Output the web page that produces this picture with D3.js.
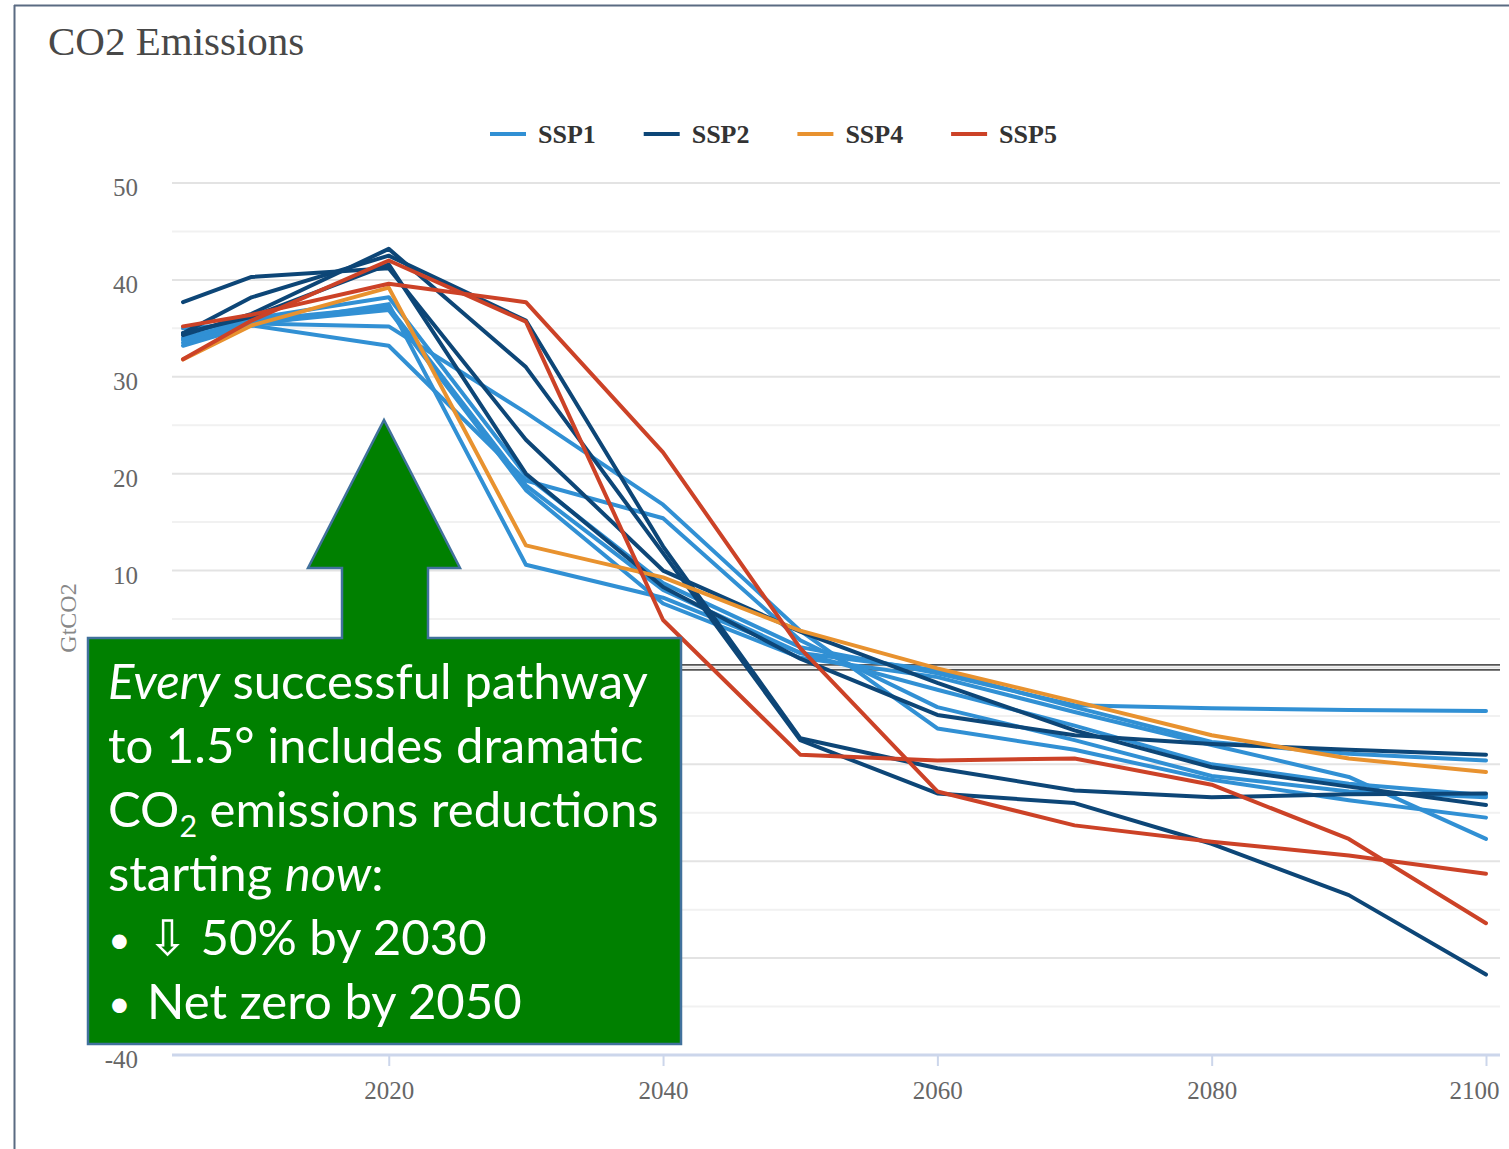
<!DOCTYPE html>
<html>
<head>
<meta charset="utf-8">
<script src="https://cdn.jsdelivr.net/npm/d3@7"></script>
<style>
  body { margin: 0; background: #fff; }
  svg { display: block; }
</style>
</head>
<body>
<div id="chart"></div>
<script>
// CO2 emissions pathways (GtCO2), one array per model run
var years = [2005, 2010, 2020, 2030, 2040, 2050, 2060, 2070, 2080, 2090, 2100];

var ssp1Runs = [
  [35.0, 35.5, 35.2, 26.3, 16.8, 3.8, -6.3, -8.5, -11.6, -13.7, -15.5],
  [33.2, 35.3, 33.2, 19.3, 15.4, 2.8, -4.1, -7.5, -11.2, -12.8, -13.4],
  [34.5, 36.0, 38.2, 19.8, 8.7, 2.1, -0.6, -3.9, -4.2, -4.4, -4.5],
  [34.0, 35.8, 37.2, 18.8, 8.0, 1.5, -0.3, -4.1, -7.7, -8.9, -9.6],
  [33.8, 35.5, 36.9, 18.3, 6.6, 1.0, -1.0, -4.6, -8.0, -11.3, -17.7],
  [33.5, 35.3, 37.5, 10.6, 7.2, 1.5, -2.3, -6.0, -10.0, -12.0, -13.2]
];
var ssp2Runs = [
  [34.5, 38.2, 42.5, 35.8, 12.5, -7.3, -10.4, -12.7, -13.4, -13.1, -13.0],
  [34.3, 36.5, 43.2, 31.0, 11.8, -7.5, -13.0, -14.0, -18.2, -23.5, -31.7],
  [37.7, 40.3, 41.2, 23.5, 10.0, 3.7, -1.6, -6.5, -10.3, -12.3, -14.2],
  [34.5, 36.2, 41.6, 20.0, 8.3, 0.9, -4.9, -7.0, -7.9, -8.5, -9.0]
];
var ssp4Runs = [
  [31.8, 35.3, 39.2, 12.6, 9.3, 3.8, -0.1, -3.5, -7.0, -9.4, -10.8]
];
var ssp5Runs = [
  [35.2, 36.4, 39.6, 37.7, 22.2, 2.0, -12.8, -16.3, -18.0, -19.4, -21.3],
  [31.8, 35.8, 42.0, 35.7, 4.9, -9.0, -9.6, -9.4, -12.1, -17.7, -26.4]
];

var seriesNames = ['SSP1', 'SSP2', 'SSP4', 'SSP5'];
var seriesColors = ['#3190d4', '#0d4677', '#e8922f', '#cc4227'];
// tick labels that show (the ones at 0, -10, -20, -30 sit behind the callout)
var yTicks = [50, 40, 30, 20, 10, -40];
var yGrid = d3.range(-40, 51, 5);
var xTicks = [2020, 2040, 2060, 2080, 2100];

var width = 1509, height = 1149;
var plotLeft = 172, plotRight = 1500;

var svg = d3.select('#chart').append('svg')
  .attr('width', width)
  .attr('height', height);

// picture frame
svg.append('line').attr('x1', 14.5).attr('x2', 14.5).attr('y1', 5).attr('y2', height)
  .attr('stroke', '#5a6b82').attr('stroke-width', 2);
svg.append('line').attr('x1', 14).attr('x2', width).attr('y1', 5.5).attr('y2', 5.5)
  .attr('stroke', '#5a6b82').attr('stroke-width', 2);

// title
svg.append('text')
  .attr('x', 48).attr('y', 55)
  .attr('font-family', 'Liberation Serif, serif')
  .attr('font-size', '41px')
  .attr('fill', '#484848')
  .text('CO2 Emissions');

// scales
var xScale = d3.scaleLinear().domain([2005, 2100]).range([183, 1486]);
var yScale = d3.scaleLinear().domain([-40, 50]).range([1055, 183]);

// gridlines
svg.append('g').selectAll('line')
  .data(yGrid)
  .enter().append('line')
  .attr('x1', plotLeft).attr('x2', plotRight)
  .attr('y1', function(d){ return yScale(d); })
  .attr('y2', function(d){ return yScale(d); })
  .attr('stroke', function(d){ return d % 10 === 0 ? '#e3e3e3' : '#f1f1f1'; })
  .attr('stroke-width', 2);

// y tick labels
svg.append('g').selectAll('text')
  .data(yTicks)
  .enter().append('text')
  .attr('x', 138)
  .attr('y', function(d){ return yScale(d) + 13; })
  .attr('text-anchor', 'end')
  .attr('font-family', 'Liberation Serif, serif')
  .attr('font-size', '25px')
  .attr('fill', '#666')
  .text(function(d){ return d; });

// y title
svg.append('text')
  .attr('transform', 'translate(76,618) rotate(-90)')
  .attr('text-anchor', 'middle')
  .attr('font-family', 'Liberation Serif, serif')
  .attr('font-size', '24px')
  .attr('fill', '#888')
  .text('GtCO2');

// x axis
var xAxis = d3.axisBottom(xScale)
  .tickValues(xTicks)
  .tickFormat(d3.format('d'))
  .tickSize(11)
  .tickPadding(15);
var xAxisG = svg.append('g')
  .attr('transform', 'translate(0,' + yScale(-40) + ')')
  .call(xAxis);
xAxisG.select('.domain').remove();
xAxisG.selectAll('.tick line').attr('stroke', '#ccd6eb').attr('stroke-width', 2);
xAxisG.selectAll('.tick text')
  .attr('font-family', 'Liberation Serif, serif')
  .attr('font-size', '25px')
  .attr('fill', '#666');
// keep the last label inside the plot's right edge
xAxisG.selectAll('.tick text').each(function(d){
  var w = this.getComputedTextLength();
  var over = xScale(d) + w / 2 - (plotRight - 1);
  if (over > 0) d3.select(this).attr('x', -over);
});
svg.append('line')
  .attr('x1', plotLeft).attr('x2', plotRight)
  .attr('y1', yScale(-40)).attr('y2', yScale(-40))
  .attr('stroke', '#ccd6eb').attr('stroke-width', 3);

// zero line (double rule)
[-2.5, 2.5].forEach(function(off){
  svg.append('line')
    .attr('x1', plotLeft).attr('x2', plotRight)
    .attr('y1', yScale(0) + off).attr('y2', yScale(0) + off)
    .attr('stroke', '#555').attr('stroke-width', 1.8);
});

// series lines
var line = d3.line()
  .x(function(d, i){ return xScale(years[i]); })
  .y(function(d){ return yScale(d); });

var allRuns = [ssp1Runs, ssp2Runs, ssp4Runs, ssp5Runs];
var linesG = svg.append('g');
allRuns.forEach(function(runs, s){
  runs.forEach(function(run){
    linesG.append('path')
      .attr('d', line(run))
      .attr('fill', 'none')
      .attr('stroke', seriesColors[s])
      .attr('stroke-width', 4)
      .attr('stroke-linejoin', 'round')
      .attr('stroke-linecap', 'round');
  });
});

// legend
var legendG = svg.append('g').attr('transform', 'translate(490,134)');
seriesNames.forEach(function(name, i){
  var row = legendG.append('g').attr('transform', 'translate(' + (i * 153.7) + ',0)');
  row.append('line')
    .attr('x1', 0).attr('x2', 36).attr('y1', 0).attr('y2', 0)
    .attr('stroke', seriesColors[i]).attr('stroke-width', 4);
  row.append('text')
    .attr('x', 48).attr('y', 9)
    .attr('font-family', 'Liberation Serif, serif')
    .attr('font-size', '26px')
    .attr('font-weight', 'bold')
    .attr('fill', '#333')
    .text(name);
});

// callout: green box with up arrow
var callout = 'M88,638 L342,638 L342,568 L308,568 L384,420 L460,568 L428,568 L428,638 ' +
              'L681,638 L681,1044 L88,1044 Z';
svg.append('path')
  .attr('d', callout)
  .attr('fill', '#008000')
  .attr('stroke', '#41719c')
  .attr('stroke-width', 2.5);

var boxText = svg.append('g')
  .attr('font-family', 'Lato, Carlito, sans-serif')
  .attr('fill', '#fff');
var lineY = [699, 763, 827, 891, 955, 1019];

var t1 = boxText.append('text').attr('x', 108).attr('y', lineY[0]);
t1.append('tspan').attr('font-style', 'italic').text('Every');
t1.append('tspan').text(' successful pathway');

boxText.append('text').attr('x', 108).attr('y', lineY[1]).text('to 1.5\u00b0 includes dramatic');

var t3 = boxText.append('text').attr('x', 108).attr('y', lineY[2]);
t3.append('tspan').text('CO');
t3.append('tspan').attr('dy', 10).attr('font-size', '0.62em').text('2');
t3.append('tspan').attr('dy', -10).text(' emissions reductions');

var t4 = boxText.append('text').attr('x', 108).attr('y', lineY[3]);
t4.append('tspan').text('starting ');
t4.append('tspan').attr('font-style', 'italic').text('now');
t4.append('tspan').text(':');

boxText.append('text').attr('x', 108).attr('y', lineY[4] - 2).attr('font-size', '0.8em').text('\u2022');
boxText.append('text').attr('x', 147).attr('y', lineY[4]).text('\u21e9 50% by 2030');
boxText.append('text').attr('x', 108).attr('y', lineY[5] - 2).attr('font-size', '0.8em').text('\u2022');
boxText.append('text').attr('x', 147).attr('y', lineY[5]).text('Net zero by 2050');

// size the callout font so the first line spans the box like the original
boxText.attr('font-size', '46px');
var w1 = t1.node().getComputedTextLength();
boxText.attr('font-size', (46 * 540 / w1) + 'px');
</script>
</body>
</html>
